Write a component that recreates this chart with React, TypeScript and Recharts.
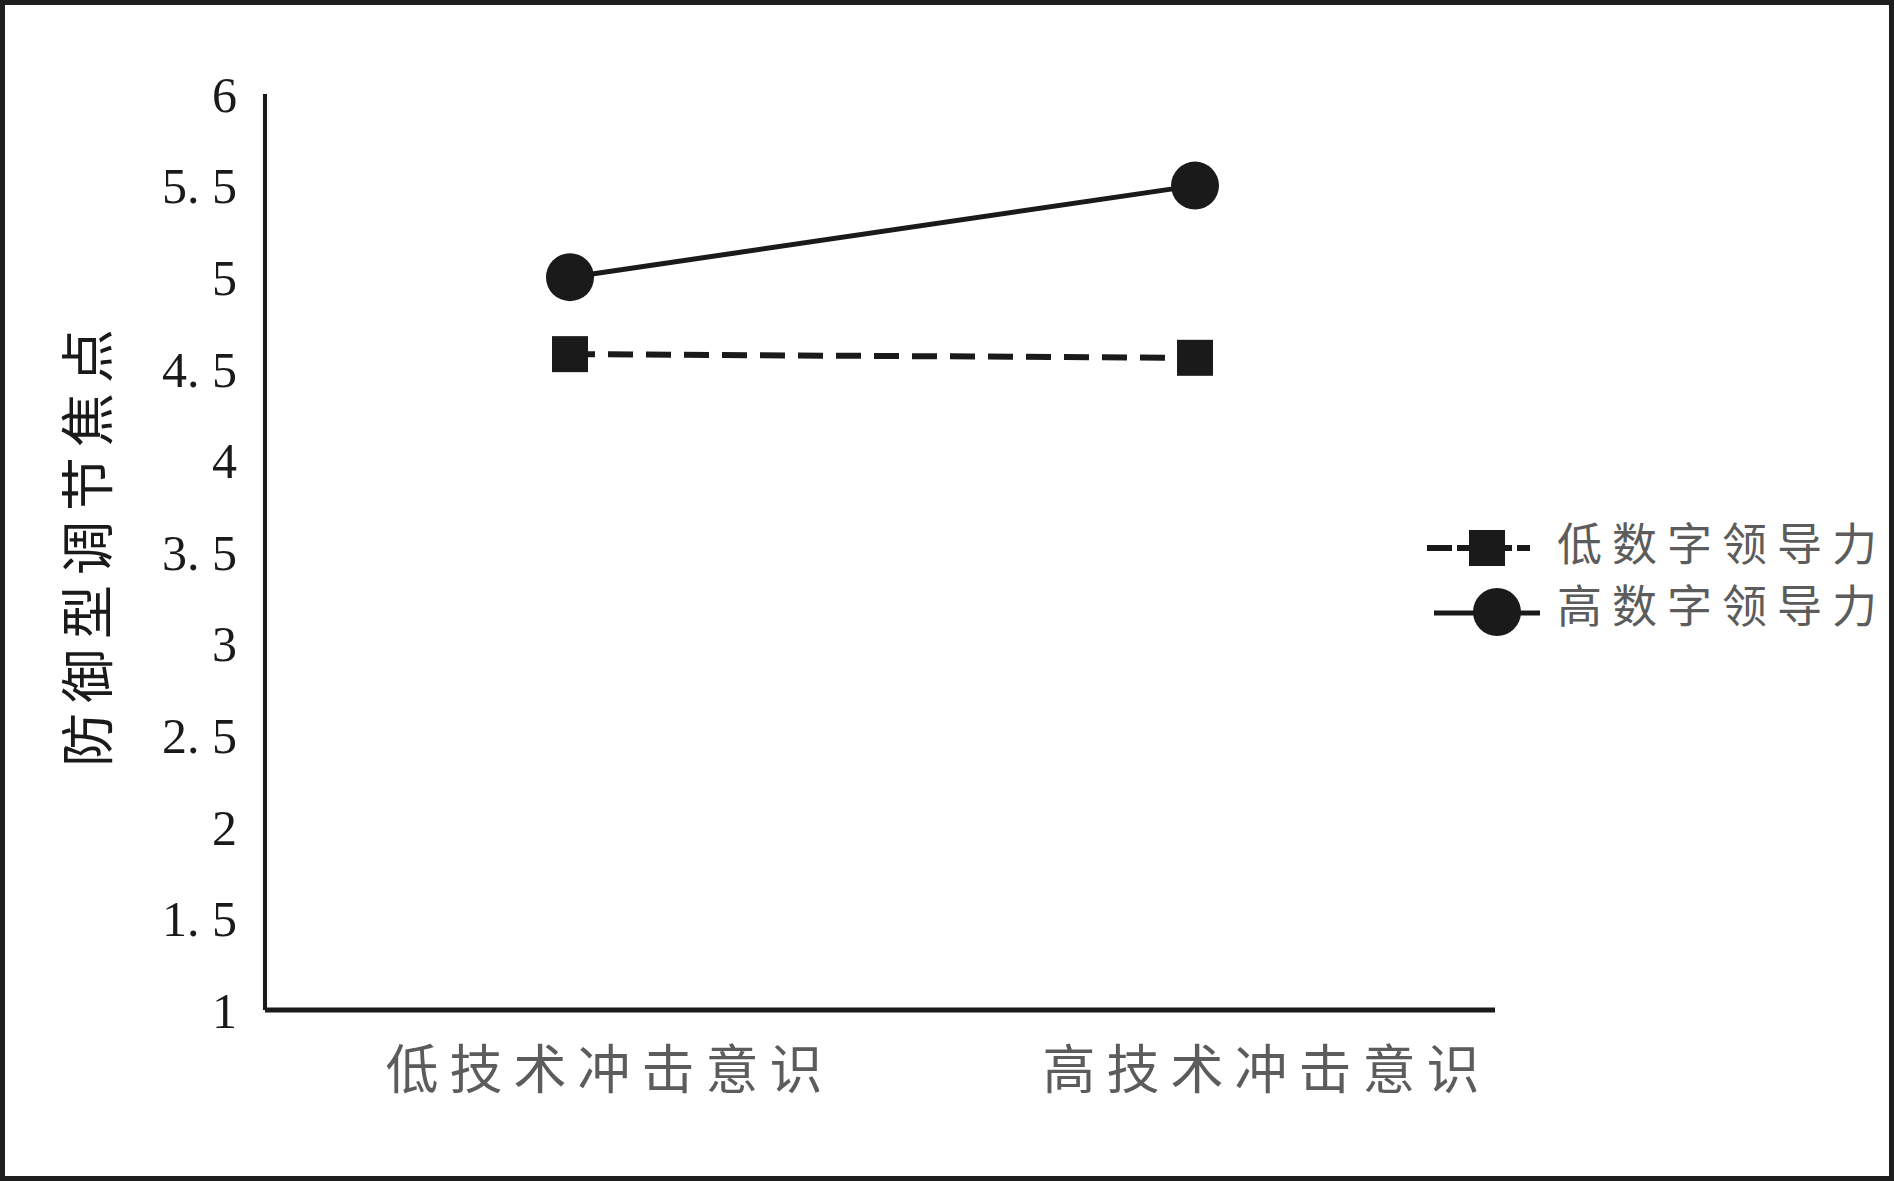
import React from "react";
import { LineChart, Line, XAxis, YAxis, Legend } from "recharts";

const categories = ["低技术冲击意识", "高技术冲击意识"];
const lowLeadership = [4.58, 4.56];
const highLeadership = [5.0, 5.5];
const seriesNames = ["低数字领导力", "高数字领导力"];
const yTicks = [1, 1.5, 2, 2.5, 3, 3.5, 4, 4.5, 5, 5.5, 6];
const yTickLabels = ["1", "1. 5", "2", "2. 5", "3", "3. 5", "4", "4. 5", "5", "5. 5", "6"];
const yTitle = "防御型调节焦点";

const data = categories.map((c, i) => ({
  name: c,
  low: lowLeadership[i],
  high: highLeadership[i],
}));

const INK = "#1a1a1a";
const GRAY = "#5c5c5c";
const CJK = '"Noto Sans CJK SC", "Noto Sans", sans-serif';
const LABEL_SHIFT = [34, 66];

const XTick = (props: any) => {
  const { x, y, payload, index } = props;
  const spacing = 11;
  return (
    <text
      x={x + LABEL_SHIFT[index] + spacing / 2}
      y={y + 56}
      textAnchor="middle"
      dominantBaseline="central"
      fontFamily={CJK}
      fontSize={53}
      letterSpacing={spacing}
      fill={GRAY}
    >
      {payload.value}
    </text>
  );
};

const SquareDot = (props: any) => {
  const { cx, cy } = props;
  if (cx == null || cy == null) return null;
  return <rect x={cx - 18} y={cy - 18} width={36} height={36} fill={INK} />;
};

const YTitle = (props: any) => {
  const { viewBox } = props;
  const spacing = 10;
  const cy = viewBox.y + viewBox.height / 2 - 14 + spacing / 2;
  return (
    <text
      x={84}
      y={cy}
      transform={`rotate(-90, 84, ${cy})`}
      textAnchor="middle"
      dominantBaseline="central"
      fontFamily={CJK}
      fontSize={54}
      letterSpacing={spacing}
      fill={INK}
    >
      {yTitle}
    </text>
  );
};

const LegendContent = () => (
  <svg width={480} height={130} style={{ display: "block" }}>
    <line x1={7} y1={38} x2={110} y2={38} stroke={INK} strokeWidth={6} strokeDasharray="25 5" />
    <rect x={49} y={20} width={36} height={36} fill={INK} />
    <text
      x={137}
      y={31}
      dominantBaseline="central"
      fontFamily={CJK}
      fontSize={45}
      letterSpacing={10}
      fill={GRAY}
    >
      {seriesNames[0]}
    </text>
    <line x1={14} y1={103} x2={120} y2={103} stroke={INK} strokeWidth={5} />
    <circle cx={77} cy={102} r={24} fill={INK} />
    <text
      x={137}
      y={93}
      dominantBaseline="central"
      fontFamily={CJK}
      fontSize={45}
      letterSpacing={10}
      fill={GRAY}
    >
      {seriesNames[1]}
    </text>
  </svg>
);

export default function App() {
  return (
    <div
      style={{
        position: "absolute",
        left: 0,
        top: 0,
        width: 1894,
        height: 1181,
        background: "#fff",
        overflow: "hidden",
      }}
    >
      <LineChart
        width={1894}
        height={1181}
        data={data}
        margin={{ top: 94, right: 399, bottom: 71, left: 0 }}
      >
        <XAxis
          dataKey="name"
          height={100}
          padding={{ left: 305, right: 300 }}
          axisLine={{ stroke: INK, strokeWidth: 5 }}
          tickLine={false}
          tickSize={0}
          tickMargin={0}
          tick={<XTick />}
          interval={0}
        />
        <YAxis
          type="number"
          domain={[1, 6]}
          ticks={yTicks}
          width={265}
          axisLine={{ stroke: INK, strokeWidth: 4 }}
          tickLine={false}
          tickSize={0}
          tickMargin={28}
          tick={{ fontFamily: '"Liberation Serif", "Times New Roman", serif', fontSize: 50, fill: INK }}
          tickFormatter={(v: number) => yTickLabels[yTicks.indexOf(v)] ?? String(v)}
          interval={0}
          label={<YTitle />}
        />
        <Legend
          layout="horizontal"
          verticalAlign="middle"
          align="center"
          content={<LegendContent />}
          wrapperStyle={{ position: "absolute", left: 1420, top: 510, width: 480, height: 130 }}
        />
        <Line
          dataKey="low"
          name={seriesNames[0]}
          type="linear"
          stroke={INK}
          strokeWidth={6}
          strokeDasharray="25 13"
          dot={<SquareDot />}
          activeDot={false}
          isAnimationActive={false}
        />
        <Line
          dataKey="high"
          name={seriesNames[1]}
          type="linear"
          stroke={INK}
          strokeWidth={5}
          dot={{ r: 24, fill: INK, stroke: "none" }}
          activeDot={false}
          isAnimationActive={false}
        />
      </LineChart>
      <div
        style={{
          position: "absolute",
          left: 0,
          top: 0,
          width: 1894,
          height: 1181,
          boxSizing: "border-box",
          border: "5px solid #1e1e1e",
          pointerEvents: "none",
        }}
      />
    </div>
  );
}
